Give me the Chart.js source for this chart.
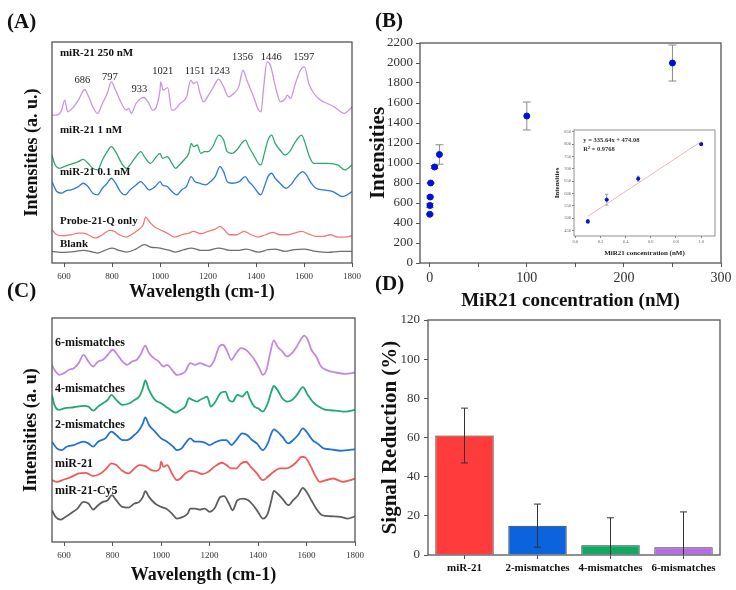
<!DOCTYPE html>
<html>
<head>
<meta charset="utf-8">
<script src="https://cdn.jsdelivr.net/npm/chart.js@4.4.1/dist/chart.umd.min.js"></script>
<style>
body { margin: 0; background: #fff; }
#page { position: relative; width: 736px; height: 590px; overflow: hidden; background: #fff; }
canvas { position: absolute; }
.tag { position: absolute; font: bold 21px "Liberation Serif", serif; line-height: 24px; color: #111; }
</style>
</head>
<body>
<div id="page">
  <canvas id="chartA" width="368" height="275" style="left:0;top:30px"></canvas>
  <canvas id="chartB" width="374" height="290" style="left:362px;top:28px"></canvas>
  <canvas id="chartC" width="368" height="290" style="left:0;top:300px"></canvas>
  <canvas id="chartD" width="374" height="285" style="left:362px;top:305px"></canvas>
  <canvas id="inset" width="172" height="135" style="left:550px;top:125px"></canvas>
  <div class="tag" style="left:7px;top:9px">(A)</div>
  <div class="tag" style="left:375px;top:8px">(B)</div>
  <div class="tag" style="left:7px;top:278px">(C)</div>
  <div class="tag" style="left:375px;top:271px">(D)</div>
</div>
<script>
const serif = '"Liberation Serif", "Times New Roman", serif';

// (A) SERS spectra, [wavenumber cm-1, intensity a.u.]
const waveTicks = [600, 800, 1000, 1200, 1400, 1600, 1800];
const a250nM = [[550,445],[570,445],[590,460],[603,490],[615,455],[640,470],[660,490],[686,522],[700,505],[720,470],[740,450],[760,480],[780,510],[797,545],[815,520],[840,480],[860,460],[870,465],[880,450],[900,480],[920,495],[933,498],[950,485],[970,460],[985,470],[1000,520],[1003,545],[1014,520],[1032,528],[1049,460],[1056,460],[1084,480],[1111,500],[1128,550],[1139,540],[1153,545],[1167,510],[1181,485],[1202,505],[1223,530],[1244,553],[1265,530],[1286,500],[1307,510],[1328,530],[1346,580],[1362,550],[1390,500],[1411,460],[1421,455],[1432,530],[1446,605],[1460,595],[1481,530],[1502,485],[1523,495],[1530,505],[1544,495],[1564,540],[1585,580],[1602,590],[1620,540],[1641,510],[1669,490],[1697,480],[1725,470],[1753,455],[1767,450],[1787,460],[1800,470]];
const a1nM = [[550,325],[560,300],[580,285],[600,290],[620,295],[640,300],[660,305],[680,312],[700,300],[720,285],[740,280],[760,310],[780,335],[797,350],[815,335],[840,300],[860,285],[880,300],[900,320],[920,335],[935,320],[960,300],[985,320],[1000,330],[1010,315],[1030,320],[1050,300],[1065,285],[1080,295],[1100,310],[1120,330],[1130,360],[1140,350],[1155,355],[1170,330],[1185,335],[1200,335],[1220,350],[1245,385],[1265,370],[1280,335],[1300,330],[1320,340],[1340,360],[1356,370],[1370,350],[1390,325],[1410,300],[1420,295],[1435,330],[1450,370],[1465,385],[1480,360],[1500,340],[1520,325],[1540,335],[1560,360],[1580,380],[1590,385],[1605,360],[1620,325],[1640,300],[1660,300],[1700,300],[1740,295],[1770,280],[1800,295]];
const a01nM = [[550,245],[570,215],[590,210],[610,218],[630,220],[660,230],[680,240],[700,230],[720,210],[740,205],[760,225],[780,240],[797,255],[815,240],[835,215],[855,205],[875,220],[900,235],[920,245],[935,235],[955,220],[980,230],[1000,245],[1010,235],[1030,230],[1050,215],[1070,205],[1090,220],[1110,230],[1130,260],[1145,245],[1165,240],[1190,235],[1210,245],[1230,260],[1250,290],[1265,275],[1280,245],[1300,240],[1330,245],[1355,260],[1370,245],[1390,230],[1410,210],[1420,205],[1435,230],[1450,260],[1465,270],[1480,255],[1500,240],[1525,225],[1545,235],[1570,260],[1595,275],[1610,265],[1630,240],[1650,225],[1680,220],[1720,215],[1760,200],[1780,205],[1800,215]];
const aProbe = [[550,100],[570,85],[600,82],[630,85],[660,90],[680,90],[700,85],[730,75],[760,85],[790,98],[810,95],[830,85],[860,78],[880,85],[910,100],[930,115],[940,138],[955,125],[975,110],[1000,100],[1030,90],[1060,78],[1090,85],[1120,90],[1140,95],[1170,88],[1200,95],[1230,102],[1250,110],[1265,102],[1290,85],[1320,85],[1350,95],[1380,85],[1410,78],[1440,85],[1470,92],[1500,85],[1530,85],[1560,90],[1590,95],[1620,87],[1650,80],[1680,80],[1710,85],[1740,78],[1770,78],[1800,82]];
const aBlank = [[550,35],[600,32],[650,35],[680,38],[720,33],[740,30],[770,38],[800,45],[830,38],[860,33],[900,42],[935,55],[960,48],[1000,45],[1040,38],[1065,33],[1100,40],[1130,45],[1170,38],[1200,38],[1245,45],[1290,38],[1330,38],[1360,42],[1410,33],[1450,40],[1480,42],[1520,35],[1560,40],[1600,42],[1650,35],[1700,32],[1750,35],[1800,35]];
const aNames = ['miR-21 250 nM', 'miR-21 1 nM', 'miR-21 0.1 nM', 'Probe-21-Q only', 'Blank'];
const aNameY = [630, 400, 272, 125, 57];
const peakWaves = [686, 797, 933, 1021, 1151, 1243, 1356, 1446, 1597];
const peakLabelX = [677, 791, 914, 1011, 1146, 1248, 1344, 1464, 1599];
const peakLabelY = [550, 560, 522, 577, 577, 577, 620, 620, 620];

// (B) calibration
const conc = [0.1, 0.25, 0.5, 1, 5, 10, 100, 250];
const intensity = [487, 575, 660, 800, 960, 1085, 1470, 2000];
const intensityErr = [7, 22, 10, 4, 15, 97, 140, 180];
const concTicks = [0, 50, 100, 150, 200, 250, 300];
const insetConc = [0.1, 0.25, 0.5, 1];
const insetIntensity = [487, 575, 660, 800];
const insetErr = [7, 22, 10, 4];
const fitLine = [[0.1, 508], [1.0, 810]];
const insetTicksX = [0, 0.2, 0.4, 0.6, 0.8, 1.0];
const insetTicksY = [450, 500, 550, 600, 650, 700, 750, 800, 850];

// (C) mismatch spectra
const c6mm = [[550,530],[560,515],[580,500],[600,505],[620,515],[640,520],[660,535],[680,560],[700,540],[720,525],[740,540],[760,545],[780,560],[800,575],[820,560],[840,540],[860,530],[880,540],[900,545],[915,560],[935,587],[950,565],[970,550],[990,540],[1010,525],[1025,530],[1045,515],[1065,500],[1085,503],[1100,510],[1120,535],[1140,530],[1160,535],[1180,530],[1200,525],[1220,545],[1240,585],[1255,590],[1270,575],[1290,545],[1310,565],[1330,580],[1350,575],[1370,560],[1390,540],[1405,520],[1420,500],[1435,515],[1450,565],[1465,603],[1480,585],[1500,570],[1520,555],[1540,565],[1560,585],[1580,610],[1590,617],[1605,605],[1620,575],[1640,555],[1660,525],[1680,515],[1720,507],[1760,503],[1800,507]];
const c4mm = [[550,440],[560,410],[580,395],[600,400],[640,403],[680,407],[700,405],[720,393],[740,405],[760,415],[780,425],[795,440],[815,425],[840,410],[870,415],[890,425],[910,435],[925,460],[935,483],[950,455],[975,425],[1000,415],[1030,400],[1060,387],[1080,395],[1100,405],[1115,430],[1130,425],[1150,420],[1160,425],[1175,430],[1190,435],[1205,405],[1220,415],[1245,445],[1265,450],[1280,425],[1295,420],[1315,440],[1335,435],[1355,450],[1365,430],[1385,405],[1400,400],[1420,390],[1440,415],[1455,450],[1465,467],[1480,455],[1500,430],[1520,420],[1540,425],[1560,440],[1585,463],[1605,440],[1625,420],[1650,405],[1680,395],[1720,393],[1760,390],[1800,395]];
const c2mm = [[550,300],[570,280],[590,275],[610,285],[640,290],[680,300],[700,295],[720,285],[740,300],[770,310],[795,330],[815,320],[840,305],[860,305],[890,320],[910,335],[925,355],[935,373],[950,350],[975,330],[1000,310],[1025,300],[1050,285],[1065,275],[1085,280],[1100,295],[1120,310],[1140,300],[1160,300],[1180,297],[1200,290],[1220,297],[1250,305],[1270,305],[1290,290],[1310,305],[1335,325],[1355,320],[1375,305],[1395,295],[1420,275],[1440,295],[1455,325],[1465,337],[1480,330],[1500,315],[1525,295],[1545,305],[1565,320],[1585,340],[1605,325],[1625,305],[1645,295],[1670,280],[1700,277],[1740,273],[1770,275],[1800,277]];
const cMir21 = [[550,185],[570,180],[600,187],[630,195],[660,205],[690,207],[720,197],[750,205],[775,220],[795,235],[815,230],[840,213],[865,205],[890,220],[910,230],[935,227],[960,215],[980,213],[995,220],[1000,240],[1010,225],[1025,230],[1045,205],[1065,185],[1080,190],[1100,205],[1120,213],[1145,210],[1170,203],[1195,210],[1220,225],[1250,237],[1270,230],[1290,220],[1310,220],[1330,235],[1350,240],[1370,225],[1395,205],[1420,185],[1440,195],[1465,210],[1490,220],[1515,220],[1535,225],[1560,240],[1580,255],[1595,253],[1615,230],[1635,200],[1655,180],[1680,185],[1710,190],[1750,180],[1780,185],[1800,190]];
const cCy5 = [[550,95],[565,75],[585,67],[605,75],[630,87],[655,100],[680,120],[700,115],[720,97],[740,110],[760,120],[780,125],[797,140],[815,125],[840,105],[865,103],[890,115],[910,120],[925,135],[935,152],[950,135],[975,115],[1000,105],[1020,100],[1045,85],[1065,70],[1090,75],[1110,85],[1120,100],[1140,100],[1160,97],[1180,100],[1200,90],[1220,100],[1245,135],[1260,137],[1280,115],[1295,95],[1315,125],[1340,130],[1360,125],[1380,110],[1400,90],[1420,70],[1440,85],[1455,125],[1465,153],[1480,145],[1500,130],[1525,110],[1545,125],[1565,140],[1585,162],[1600,150],[1620,125],[1640,100],[1665,80],[1700,77],[1740,75],[1770,70],[1800,77]];
const cNames = ['6-mismatches', '4-mismatches', '2-mismatches', 'miR-21', 'miR-21-Cy5'];
const cNameY = [595, 457, 350, 233, 153];

// (D) selectivity
const probes = ['miR-21', '2-mismatches', '4-mismatches', '6-mismatches'];
const reduction = [61, 15, 5, 4];
const reductionErr = [14, 11, 14, 18];

// box around the plot area
const frame = (color, width) => ({
    id: 'frame',
    afterDatasetsDraw(chart) {
        const a = chart.chartArea, ctx = chart.ctx;
        ctx.save();
        ctx.strokeStyle = color;
        ctx.lineWidth = width;
        ctx.strokeRect(a.left, a.top, a.right - a.left, a.bottom - a.top);
        ctx.restore();
    }
});

// text placed in data coordinates
const marks = (items) => ({
    id: 'marks',
    afterDatasetsDraw(chart) {
        const ctx = chart.ctx, xs = chart.scales.x, ys = chart.scales.y;
        ctx.save();
        ctx.textBaseline = 'middle';
        items.forEach(m => {
            ctx.font = m.font;
            ctx.fillStyle = m.color || '#111';
            ctx.textAlign = m.align || 'left';
            ctx.fillText(m.text, xs.getPixelForValue(m.x), ys.getPixelForValue(m.y));
        });
        ctx.restore();
    }
});

// vertical error bars with caps
const errorBars = (values, errs, color, cap, front) => {
    const draw = (chart) => {
        const ctx = chart.ctx, ys = chart.scales.y, a = chart.chartArea;
        const meta = chart.getDatasetMeta(chart.data.datasets.length - 1);
        ctx.save();
        ctx.beginPath();
        ctx.rect(a.left, a.top - 1, a.right - a.left, a.bottom - a.top + 1);
        ctx.clip();
        ctx.strokeStyle = color;
        ctx.lineWidth = 1;
        meta.data.forEach((el, i) => {
            const x = el.x;
            const y1 = ys.getPixelForValue(values[i] + errs[i]);
            const y2 = ys.getPixelForValue(values[i] - errs[i]);
            ctx.beginPath();
            ctx.moveTo(x, y1); ctx.lineTo(x, y2);
            ctx.moveTo(x - cap, y1); ctx.lineTo(x + cap, y1);
            ctx.moveTo(x - cap, y2); ctx.lineTo(x + cap, y2);
            ctx.stroke();
        });
        ctx.restore();
    };
    return front ? { id: 'errorBars', afterDatasetsDraw: draw } : { id: 'errorBars', beforeDatasetsDraw: draw };
};

const fixTicks = (list) => (s) => { s.ticks = list.map(v => ({ value: v })); };

function spectrumOptions(yMax, yTitle, pad, yWidth, xHeight, titlePadLeft, titlePadBottom, tickSize) {
    return {
        responsive: false,
        animation: false,
        layout: { padding: pad },
        plugins: { legend: { display: false }, tooltip: { enabled: false } },
        elements: { point: { radius: 0 } },
        scales: {
            x: {
                type: 'linear', min: 550, max: 1800,
                afterBuildTicks: fixTicks(waveTicks),
                afterFit: s => { s.height = xHeight; },
                ticks: { font: { family: serif, size: tickSize }, color: '#333', padding: 4, maxRotation: 0, callback: v => String(v) },
                grid: { drawOnChartArea: false, tickLength: 4, color: '#555' },
                border: { display: false },
                title: { display: true, text: 'Wavelength (cm-1)', color: '#111',
                    font: { family: serif, size: 18, weight: 'bold' }, padding: { top: 0, bottom: titlePadBottom } }
            },
            y: {
                min: 0, max: yMax,
                ticks: { display: false },
                grid: { display: false },
                border: { display: false },
                afterFit: s => { s.width = yWidth; },
                title: { display: true, text: yTitle, color: '#111',
                    font: { family: serif, size: 18, weight: 'bold' }, padding: { top: titlePadLeft, bottom: 0 } }
            }
        }
    };
}

function line(data, color, width) {
    return { data: data, borderColor: color, borderWidth: width, fill: false, cubicInterpolationMode: 'monotone' };
}

// ---- (A)
const aMarks = aNames.map((t, i) => ({ text: t, x: 583, y: aNameY[i], font: 'bold 11px ' + serif }))
    .concat(peakWaves.map((w, i) => ({ text: String(w), x: peakLabelX[i], y: peakLabelY[i], font: '10.5px ' + serif, align: 'center', color: '#222' })));

new Chart(document.getElementById('chartA'), {
    type: 'line',
    data: {
        datasets: [
            line(a250nM, '#c896e6', 1.3),
            line(a1nM, '#2fa870', 1.3),
            line(a01nM, '#2c7bd8', 1.3),
            line(aProbe, '#f07878', 1.3),
            line(aBlank, '#6e6e6e', 1.3)
        ]
    },
    options: spectrumOptions(665, 'Intensities (a. u.)', { top: 12, right: 16, left: 0, bottom: 0 }, 52, 42, 22, 2, 9),
    plugins: [frame('#555', 1.3), marks(aMarks)]
});

// ---- (C)
const cMarks = cNames.map((t, i) => ({ text: t, x: 562, y: cNameY[i], font: 'bold 12px ' + serif }));

new Chart(document.getElementById('chartC'), {
    type: 'line',
    data: {
        datasets: [
            line(c6mm, '#c08ae0', 1.8),
            line(c4mm, '#1fa872', 1.8),
            line(c2mm, '#1f72d8', 1.8),
            line(cMir21, '#f05a5a', 1.8),
            line(cCy5, '#5e5e5e', 1.8)
        ]
    },
    options: spectrumOptions(670, 'Intensities (a. u)', { top: 18, right: 13, left: 0, bottom: 0 }, 52, 48, 21, 4, 9),
    plugins: [frame('#555', 1.3), marks(cMarks)]
});

// ---- (B)
new Chart(document.getElementById('chartB'), {
    type: 'scatter',
    data: {
        datasets: [{
            data: conc.map((c, i) => ({ x: c, y: intensity[i] })),
            backgroundColor: '#0010d8', borderColor: '#0010d8', pointRadius: 3, pointHoverRadius: 3
        }]
    },
    options: {
        responsive: false,
        animation: false,
        layout: { padding: { top: 15, right: 15, left: 0, bottom: 0 } },
        plugins: { legend: { display: false }, tooltip: { enabled: false } },
        scales: {
            x: {
                type: 'linear', min: -10, max: 300,
                afterBuildTicks: fixTicks(concTicks),
                afterFit: s => { s.height = 55; },
                ticks: { font: { family: serif, size: 14 }, color: '#333', padding: 3, maxRotation: 0,
                    callback: v => (v % 100 === 0 ? String(v) : '') },
                grid: { drawOnChartArea: false, tickLength: 4, color: '#555' },
                border: { display: false },
                title: { display: true, text: 'MiR21 concentration (nM)', color: '#111',
                    font: { family: serif, size: 19, weight: 'bold' }, padding: { top: 0, bottom: 6 } }
            },
            y: {
                min: 0, max: 2200,
                ticks: { stepSize: 200, font: { family: serif, size: 13 }, color: '#333', padding: 3, callback: v => String(v) },
                grid: { drawOnChartArea: false, tickLength: 4, color: '#555' },
                border: { display: false },
                afterFit: s => { s.width = 58; },
                title: { display: true, text: 'Intensities', color: '#111',
                    font: { family: serif, size: 21, weight: 'bold' }, padding: { top: 4, bottom: 0 } }
            }
        }
    },
    plugins: [errorBars(intensity, intensityErr, '#8a8a8a', 4, false), frame('#555', 1.3)]
});

// ---- inset of (B)
const insetMarks = [
    { text: 'y = 335.64x + 474.08', x: 0.064, y: 815, font: 'bold 6.5px ' + serif, color: '#333' },
    { text: 'R² = 0.9768', x: 0.064, y: 779, font: 'bold 6.5px ' + serif, color: '#333' }
];

new Chart(document.getElementById('inset'), {
    type: 'scatter',
    data: {
        datasets: [
            { type: 'line', data: fitLine.map(p => ({ x: p[0], y: p[1] })), borderColor: '#f4b4b4', borderWidth: 1, pointRadius: 0 },
            { data: insetConc.map((c, i) => ({ x: c, y: insetIntensity[i] })),
              backgroundColor: '#0010d8', borderColor: '#0010d8', pointRadius: 1.6, pointHoverRadius: 1.6 }
        ]
    },
    options: {
        responsive: false,
        animation: false,
        layout: { padding: { top: 5, right: 7, left: 0, bottom: 0 } },
        plugins: { legend: { display: false }, tooltip: { enabled: false } },
        scales: {
            x: {
                type: 'linear', min: -0.01, max: 1.11,
                afterBuildTicks: fixTicks(insetTicksX),
                afterFit: s => { s.height = 24; },
                ticks: { font: { family: serif, size: 4.5 }, color: '#666', padding: 1, maxRotation: 0, callback: v => v.toFixed(1) },
                grid: { drawOnChartArea: false, tickLength: 2, color: '#888' },
                border: { display: false },
                title: { display: true, text: 'MiR21 concentration (nM)', color: '#222',
                    font: { family: serif, size: 7, weight: 'bold' }, padding: { top: 0, bottom: 3 } }
            },
            y: {
                min: 428, max: 857,
                afterBuildTicks: fixTicks(insetTicksY),
                ticks: { font: { family: serif, size: 4.5 }, color: '#666', padding: 1, callback: v => String(v) },
                grid: { drawOnChartArea: false, tickLength: 2, color: '#888' },
                border: { display: false },
                afterFit: s => { s.width = 24; },
                title: { display: true, text: 'Intensities', color: '#222',
                    font: { family: serif, size: 7, weight: 'bold' }, padding: { top: 3, bottom: 0 } }
            }
        }
    },
    plugins: [errorBars(insetIntensity, insetErr, '#9a9a9a', 1.5, false), frame('#777', 0.8), marks(insetMarks)]
});

// ---- (D)
new Chart(document.getElementById('chartD'), {
    type: 'bar',
    data: {
        labels: probes,
        datasets: [{
            data: reduction,
            backgroundColor: ['#ff3b3b', '#0b63dd', '#0fa864', '#b56de3'],
            borderColor: '#333', borderWidth: 1,
            barPercentage: 0.8, categoryPercentage: 1
        }]
    },
    options: {
        responsive: false,
        animation: false,
        layout: { padding: { top: 15, right: 16, left: 0, bottom: 0 } },
        plugins: { legend: { display: false }, tooltip: { enabled: false } },
        scales: {
            x: {
                afterFit: s => { s.height = 35; },
                ticks: { font: { family: serif, size: 11, weight: 'bold' }, color: '#111', padding: 3, maxRotation: 0 },
                grid: { drawOnChartArea: false, offset: false, tickLength: 4, color: '#555' },
                border: { display: false }
            },
            y: {
                min: 0, max: 120,
                ticks: { stepSize: 20, font: { family: serif, size: 13 }, color: '#333', padding: 4, callback: v => String(v) },
                grid: { drawOnChartArea: false, tickLength: 4, color: '#555' },
                border: { display: false },
                afterFit: s => { s.width = 66; },
                title: { display: true, text: 'Signal Reduction (%)', color: '#111',
                    font: { family: serif, size: 21, weight: 'bold' }, padding: { top: 16, bottom: 0 } }
            }
        }
    },
    plugins: [errorBars(reduction, reductionErr, '#333', 3.5, true), frame('#555', 1.3)]
});
</script>
</body>
</html>
